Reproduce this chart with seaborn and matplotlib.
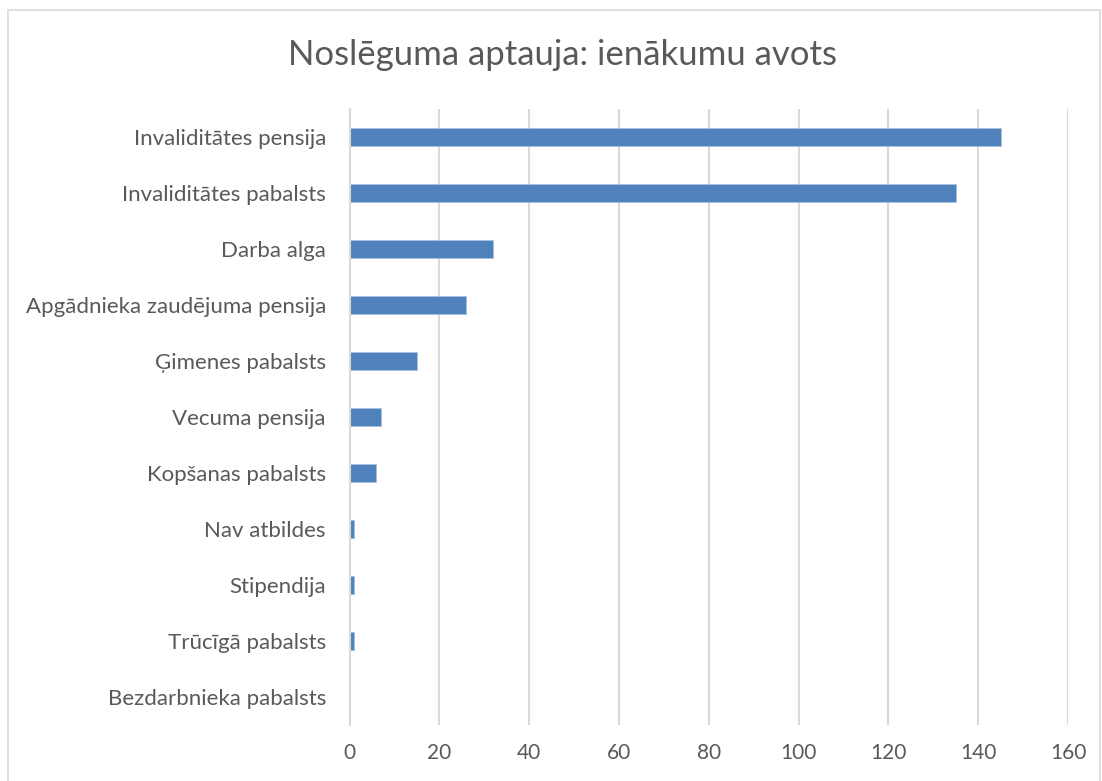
import pandas as pd
import seaborn as sns
import matplotlib.pyplot as plt
from matplotlib.patches import Rectangle
from matplotlib.ticker import FixedLocator

categories = ['Invaliditātes pensija', 'Invaliditātes pabalsts', 'Darba alga',
              'Apgādnieka zaudējuma pensija', 'Ģimenes pabalsts', 'Vecuma pensija',
              'Kopšanas pabalsts', 'Nav atbildes', 'Stipendija', 'Trūcīgā pabalsts',
              'Bezdarbnieka pabalsts']
counts = [145, 135, 32, 26, 15, 7, 6, 1, 1, 1, 0]
x_ticks = [0, 20, 40, 60, 80, 100, 120, 140, 160]

df = pd.DataFrame({'Avots': categories, 'Skaits': counts})

sns.set_style('white')
plt.rcParams['font.family'] = ['Lato', 'DejaVu Sans']

text_col = '#595959'
grid_col = '#D9D9D9'

fig = plt.figure(figsize=(11.02, 7.81), dpi=100)
ax = fig.add_axes([0.3172, 0.0717, 0.652, 0.7887])

sns.barplot(data=df, x='Skaits', y='Avots', orient='h', color='#4F81BD',
            width=0.33, edgecolor='#A9C0DE', linewidth=0.6, saturation=1, ax=ax)

ax.set_xlim(0, 160)
ax.set_ylim(len(categories) - 0.5, -0.5)
ax.set_xticks(x_ticks)
ax.xaxis.grid(True, color=grid_col, linewidth=1.5)
ax.set_axisbelow(True)
ax.set_xlabel('')
ax.set_ylabel('')

for s in ['top', 'right', 'bottom']:
    ax.spines[s].set_visible(False)
ax.spines['left'].set_color(grid_col)
ax.spines['left'].set_linewidth(1.5)

ax.tick_params(axis='x', length=0, pad=13, labelsize=15, labelcolor=text_col)
ax.tick_params(axis='y', which='major', length=0, pad=17, labelsize=16, labelcolor=text_col)
ax.yaxis.set_minor_locator(FixedLocator([i - 0.5 for i in range(len(categories) + 1)]))
ax.tick_params(axis='y', which='minor', length=5, width=1.5, color=grid_col, direction='out')

fig.text(0.51, 0.93, 'Noslēguma aptauja: ienākumu avots', ha='center', va='center',
         fontsize=25, color=text_col)

fig.patches.append(Rectangle((8 / 1102, -0.01), 1092 / 1102, 1.01 - 10 / 781,
                             transform=fig.transFigure, fill=False,
                             edgecolor=grid_col, linewidth=1.2))

fig.savefig('out.png', dpi=100)
